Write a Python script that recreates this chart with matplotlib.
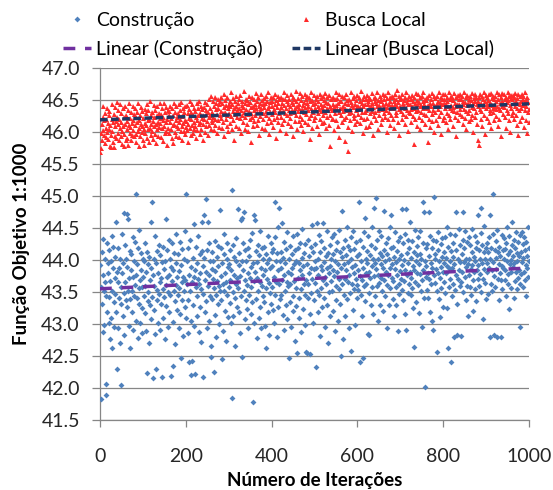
import numpy as np
import matplotlib
matplotlib.use("Agg")
import matplotlib.pyplot as plt
from matplotlib.ticker import FormatStrFormatter

# Values in hundredths above 40.00 (e.g. 352 -> 43.52), one per iteration
construcao_c = [
    392, 183, 358, 412, 331, 287, 376, 433, 352, 298, 401, 366, 206, 344, 189, 427, 318, 380, 395, 301,
    342, 415, 276, 367, 398, 309, 437, 351, 262, 388, 420, 335, 296, 372, 404, 347, 319, 460, 381, 230,
    366, 293, 418, 341, 387, 270, 402, 205, 358, 331, 441, 379, 312, 396, 474, 348, 283, 423, 365, 337,
    401, 326, 389, 472, 351, 464, 297, 372, 414, 339, 263, 385, 410, 352, 318, 436, 374, 291, 399, 343,
    361, 428, 305, 503, 377, 340, 393, 278, 419, 356, 332, 447, 369, 301, 384, 411, 325, 358, 286, 402,
    373, 344, 398, 317, 426, 359, 289, 381, 412, 223, 350, 394, 336, 271, 405, 368, 329, 460, 387, 308,
    342, 490, 215, 376, 401, 322, 359, 437, 284, 395, 230, 353, 414, 338, 302, 380, 423, 347, 366, 290,
    408, 331, 372, 397, 217, 355, 421, 310, 386, 342, 277, 399, 464, 361, 328, 415, 373, 296, 350, 432,
    377, 318, 402, 345, 389, 219, 367, 426, 303, 234, 384, 351, 411, 336, 269, 395, 361, 440, 322, 374,
    346, 409, 383, 294, 357, 428, 315, 247, 392, 366, 338, 417, 281, 373, 401, 352, 327, 445, 369, 310,
    503, 362, 399, 337, 418, 286, 241, 376, 351, 432, 305, 220, 389, 365, 242, 403, 330, 374, 297, 456,
    384, 222, 358, 421, 343, 396, 312, 371, 437, 288, 362, 409, 326, 380, 355, 272, 414, 460, 217, 391,
    347, 470, 403, 319, 368, 495, 382, 336, 415, 293, 460, 359, 427, 305, 376, 344, 398, 265, 248, 386,
    412, 339, 371, 398, 225, 357, 430, 314, 383, 346, 279, 405, 367, 422, 331, 391, 300, 360, 478, 352,
    375, 418, 337, 245, 396, 363, 289, 409, 352, 441, 321, 380, 366, 273, 402, 345, 427, 311, 389, 358,
    394, 333, 416, 368, 301, 385, 184, 509, 350, 423, 312, 377, 405, 341, 266, 398, 362, 435, 327, 372,
    480, 356, 392, 319, 411, 375, 286, 343, 462, 398, 465, 249, 384, 427, 352, 475, 308, 369, 415, 337,
    399, 361, 324, 418, 380, 293, 407, 346, 431, 372, 315, 389, 358, 442, 334, 178, 396, 367, 470, 302,
    463, 381, 414, 339, 397, 278, 372, 423, 352, 310, 408, 365, 446, 327, 388, 293, 419, 359, 343, 401,
    376, 335, 420, 297, 384, 409, 356, 263, 395, 371, 438, 318, 364, 402, 283, 387, 349, 426, 331, 413,
    358, 391, 322, 417, 373, 302, 436, 490, 345, 399, 366, 280, 411, 384, 327, 452, 481, 362, 398, 339,
    387, 345, 412, 458, 369, 314, 403, 376, 291, 428, 352, 395, 330, 417, 365, 444, 308, 381, 359, 247,
    401, 363, 335, 422, 378, 296, 410, 388, 344, 437, 320, 393, 367, 274, 415, 356, 399, 328, 440, 255,
    372, 418, 341, 396, 309, 384, 427, 355, 287, 403, 377, 448, 323, 390, 362, 411, 345, 298, 425, 368,
    257, 394, 255, 362, 431, 340, 406, 379, 316, 253, 388, 421, 349, 455, 371, 302, 413, 386, 337, 399,
    364, 425, 388, 233, 352, 458, 401, 318, 376, 439, 345, 282, 412, 391, 357, 430, 326, 384, 458, 369,
    397, 341, 419, 373, 296, 406, 362, 445, 330, 387, 411, 271, 379, 350, 424, 391, 313, 402, 367, 436,
    352, 409, 384, 321, 441, 375, 398, 289, 416, 360, 337, 428, 382, 305, 393, 447, 354, 371, 412, 331,
    388, 250, 405, 476, 362, 419, 277, 394, 346, 431, 371, 313, 408, 385, 452, 339, 397, 366, 422, 294,
    377, 415, 348, 258, 401, 436, 363, 389, 322, 445, 380, 354, 417, 298, 392, 371, 428, 340, 406, 361,
    384, 353, 491, 410, 241, 375, 432, 346, 398, 368, 313, 247, 421, 387, 359, 443, 336, 466, 402, 379,
    362, 414, 395, 285, 437, 283, 381, 349, 408, 372, 329, 423, 390, 451, 358, 401, 316, 481, 375, 396,
    343, 418, 497, 386, 359, 432, 401, 305, 377, 445, 364, 411, 329, 393, 372, 438, 352, 406, 387, 321,
    415, 477, 369, 398, 344, 427, 382, 293, 409, 361, 435, 376, 330, 401, 388, 452, 357, 418, 470, 372,
    394, 339, 421, 367, 405, 312, 386, 443, 358, 397, 330, 414, 376, 289, 429, 362, 401, 347, 436, 383,
    371, 408, 480, 353, 392, 426, 338, 400, 367, 441, 315, 384, 480, 290, 411, 376, 349, 432, 395, 363,
    418, 381, 460, 346, 403, 372, 429, 357, 391, 325, 264, 413, 385, 447, 366, 398, 334, 422, 379, 408,
    361, 436, 393, 317, 410, 378, 445, 352, 401, 369, 296, 427, 384, 490, 341, 475, 399, 202, 418, 374,
    391, 353, 425, 380, 340, 475, 406, 371, 438, 318, 396, 363, 419, 387, 305, 432, 290, 498, 377, 410,
    364, 401, 386, 429, 352, 256, 416, 380, 443, 339, 398, 372, 311, 425, 389, 357, 434, 404, 327, 381,
    412, 366, 395, 436, 348, 403, 379, 451, 325, 390, 262, 420, 387, 358, 441, 370, 399, 240, 414, 343,
    388, 427, 362, 405, 280, 394, 439, 353, 416, 376, 475, 332, 283, 401, 371, 448, 384, 359, 423, 397,
    365, 282, 409, 381, 432, 475, 350, 397, 418, 374, 446, 337, 402, 389, 360, 428, 313, 394, 377, 436,
    401, 358, 423, 386, 345, 412, 392, 449, 368, 321, 405, 381, 437, 355, 399, 418, 336, 384, 428, 371,
    470, 392, 415, 359, 401, 378, 442, 482, 350, 396, 424, 371, 308, 413, 386, 453, 364, 402, 339, 419,
    381, 426, 395, 347, 412, 388, 436, 280, 401, 470, 363, 419, 384, 352, 440, 503, 397, 283, 375, 416,
    358, 403, 429, 386, 447, 280, 371, 412, 394, 337, 421, 380, 406, 280, 368, 439, 391, 355, 415, 387,
    402, 434, 369, 417, 385, 343, 426, 398, 451, 362, 410, 378, 324, 437, 393, 414, 356, 400, 382, 460,
    423, 389, 407, 341, 432, 396, 367, 419, 443, 382, 355, 411, 398, 428, 372, 406, 384, 439, 362, 295,
    412, 378, 444, 397, 358, 425, 403, 381, 436, 369, 415, 392, 344, 428, 406, 387, 451, 374, 419, 398,
]

busca_local_c = [
    569, 575, 598, 612, 587, 624, 603, 641, 595, 618, 583, 630, 607, 592, 621, 637, 600, 614, 589, 626,
    605, 633, 578, 611, 596, 577, 620, 643, 602, 585, 615, 576, 628, 609, 594, 639, 617, 590, 624, 647,
    612, 599, 634, 587, 621, 606, 643, 593, 616, 629, 601, 582, 637, 610, 578, 624, 597, 640, 613, 588,
    626, 604, 617, 591, 635, 579, 611, 645, 599, 622, 608, 587, 632, 614, 596, 641, 619, 603, 628, 593,
    611, 638, 597, 624, 585, 615, 631, 602, 646, 618, 578, 606, 627, 594, 639, 612, 600, 633, 609, 587,
    622, 605, 580, 636, 614, 598, 629, 611, 643, 591, 618, 604, 634, 585, 621, 648, 607, 596, 626, 613,
    601, 631, 617, 589, 642, 609, 624, 597, 635, 612, 583, 627, 605, 640, 616, 593, 630, 608, 622, 646,
    614, 592, 628, 606, 637, 618, 586, 624, 610, 645, 599, 631, 615, 602, 639, 580, 620, 634, 607, 626,
    598, 633, 616, 641, 604, 622, 590, 637, 611, 627, 583, 645, 613, 600, 631, 618, 594, 640, 609, 624,
    629, 606, 643, 615, 592, 635, 621, 602, 647, 610, 625, 588, 638, 614, 601, 632, 619, 597, 641, 608,
    617, 642, 603, 629, 612, 585, 636, 622, 648, 607, 631, 595, 620, 644, 611, 626, 599, 638, 615, 604,
    633, 610, 624, 590, 645, 618, 603, 637, 627, 612, 649, 597, 630, 616, 641, 605, 622, 636, 587, 626,
    613, 639, 620, 600, 647, 628, 609, 635, 617, 644, 596, 631, 623, 652, 611, 638, 626, 605, 656, 619,
    632, 615, 648, 624, 603, 641, 620, 655, 611, 636, 645, 598, 628, 619, 652, 637, 608, 643, 626, 649,
    622, 654, 633, 607, 646, 629, 616, 660, 639, 594, 631, 650, 621, 642, 610, 655, 627, 638, 601, 644,
    630, 648, 614, 640, 662, 625, 604, 644, 633, 653, 619, 637, 588, 649, 628, 641, 609, 657, 635, 623,
    645, 630, 607, 651, 637, 622, 658, 634, 599, 642, 626, 648, 615, 639, 664, 631, 605, 646, 624, 652,
    636, 612, 650, 628, 643, 601, 656, 633, 620, 647, 639, 584, 629, 654, 623, 641, 609, 651, 635, 617,
    644, 627, 661, 637, 611, 649, 632, 618, 655, 641, 595, 634, 646, 625, 659, 638, 606, 650, 630, 643,
    621, 653, 639, 604, 645, 633, 657, 626, 614, 649, 637, 663, 622, 641, 597, 647, 631, 655, 616, 640,
    648, 628, 608, 654, 636, 620, 660, 643, 632, 591, 650, 623, 639, 656, 615, 645, 629, 652, 635, 603,
    639, 655, 624, 646, 612, 651, 633, 662, 618, 642, 630, 652, 599, 638, 649, 627, 658, 614, 644, 634,
    651, 622, 640, 629, 659, 609, 647, 635, 655, 594, 643, 631, 652, 617, 637, 664, 626, 649, 605, 641,
    633, 653, 617, 644, 638, 661, 625, 611, 650, 636, 656, 621, 642, 601, 647, 632, 659, 639, 615, 651,
    628, 645, 657, 613, 640, 634, 654, 622, 648, 589, 637, 662, 626, 650, 607, 643, 632, 658, 618, 646,
    638, 624, 652, 635, 609, 656, 641, 630, 649, 597, 636, 660, 620, 644, 633, 653, 614, 639, 657, 627,
    650, 616, 642, 661, 631, 647, 606, 638, 654, 623, 645, 634, 658, 611, 640, 626, 578, 651, 637, 620,
    634, 655, 621, 644, 639, 603, 651, 629, 663, 618, 642, 636, 653, 610, 646, 632, 659, 592, 638, 649,
    627, 648, 637, 657, 615, 641, 633, 654, 620, 645, 586, 638, 660, 624, 650, 635, 608, 570, 643, 630,
    652, 636, 619, 647, 662, 631, 642, 602, 653, 639, 626, 656, 622, 644, 612, 650, 634, 640, 658, 617,
    641, 628, 654, 636, 614, 649, 639, 664, 624, 646, 632, 599, 652, 640, 657, 620, 644, 631, 608, 651,
    635, 658, 622, 643, 649, 610, 638, 655, 629, 651, 616, 640, 661, 633, 646, 596, 639, 653, 625, 648,
    655, 631, 645, 618, 640, 662, 634, 650, 605, 642, 627, 657, 638, 648, 613, 652, 636, 621, 644, 659,
    630, 651, 641, 658, 624, 646, 635, 600, 653, 639, 663, 621, 643, 632, 654, 611, 649, 637, 626, 656,
    642, 621, 655, 638, 649, 607, 644, 660, 632, 651, 627, 640, 665, 616, 647, 636, 657, 595, 641, 652,
    633, 653, 639, 620, 659, 645, 628, 650, 641, 612, 654, 637, 662, 625, 647, 635, 602, 651, 643, 631,
    656, 629, 644, 636, 652, 615, 640, 658, 625, 648, 581, 638, 655, 621, 646, 633, 661, 609, 643, 650,
    635, 659, 623, 647, 640, 654, 604, 642, 632, 657, 618, 649, 637, 663, 628, 644, 613, 652, 639, 626,
    650, 638, 654, 585, 642, 621, 658, 634, 646, 608, 652, 640, 628, 661, 617, 645, 635, 656, 600, 641,
    632, 653, 641, 619, 657, 644, 611, 649, 636, 662, 625, 647, 640, 597, 655, 631, 651, 643, 618, 660,
    645, 623, 651, 638, 659, 615, 643, 654, 630, 648, 604, 641, 663, 626, 652, 637, 620, 657, 642, 634,
    654, 639, 610, 650, 633, 661, 624, 646, 640, 655, 594, 644, 631, 658, 619, 651, 643, 628, 660, 636,
    641, 652, 625, 657, 644, 613, 649, 636, 663, 622, 647, 633, 654, 605, 642, 658, 629, 645, 617, 651,
    634, 656, 643, 620, 650, 639, 661, 627, 646, 600, 653, 637, 659, 623, 648, 632, 655, 612, 644, 641,
    587, 648, 580, 654, 636, 660, 620, 646, 633, 656, 609, 651, 640, 626, 662, 643, 597, 649, 638, 658,
    644, 622, 655, 640, 650, 616, 659, 635, 647, 629, 661, 606, 642, 653, 631, 657, 637, 619, 651, 640,
    656, 636, 648, 625, 662, 641, 610, 652, 638, 659, 621, 645, 634, 654, 593, 649, 640, 661, 628, 646,
    639, 660, 624, 651, 643, 655, 607, 647, 635, 663, 630, 650, 618, 657, 642, 600, 653, 637, 658, 626,
    652, 632, 658, 645, 620, 655, 640, 661, 627, 648, 611, 653, 638, 660, 596, 646, 634, 656, 643, 617,
    649, 638, 660, 624, 652, 642, 657, 608, 645, 634, 662, 619, 650, 640, 598, 654, 631, 647, 636, 616,
]

# Linear trendlines (value at iteration 0 and 1000)
tendencia_x = [0, 1000]
tendencia_construcao = [43.55, 43.875]
tendencia_busca_local = [46.19, 46.44]

y_ticks = [41.5, 42.0, 42.5, 43.0, 43.5, 44.0, 44.5, 45.0, 45.5, 46.0, 46.5, 47.0]
x_ticks = [0, 200, 400, 600, 800, 1000]

construcao = 40 + np.array(construcao_c) / 100.0
busca_local = 40 + np.array(busca_local_c) / 100.0
iteracoes = np.arange(1, len(construcao) + 1)

plt.rcParams['font.family'] = ['Lato', 'DejaVu Sans']
W, H = 553, 490
fig = plt.figure(figsize=(W / 100, H / 100), dpi=100)
ax = fig.add_axes([100 / W, (H - 420) / H, 429 / W, 352 / H])

grid_c = '#868686'
blue = '#4F81BD'
red = '#FF2A2A'

ax.plot(iteracoes, construcao, linestyle='none', marker='D', ms=3.0, mew=0,
        color=blue, label='Construção', zorder=3)
ax.plot(iteracoes, busca_local, linestyle='none', marker='^', ms=3.6, mew=0,
        color=red, label='Busca Local', zorder=3)
ax.plot(tendencia_x, tendencia_construcao, color='#7030A0', lw=2.5,
        linestyle=(0, (3.4, 2.8)), label='Linear (Construção)', zorder=4)
ax.plot(tendencia_x, tendencia_busca_local, color='#1F3864', lw=2.5,
        linestyle=(0, (2.2, 1.0)), label='Linear (Busca Local)', zorder=4)

ax.set_xlim(0, 1000)
ax.set_ylim(41.5, 47.0)
ax.set_xticks(x_ticks)
ax.set_yticks(y_ticks)
ax.yaxis.set_major_formatter(FormatStrFormatter('%.1f'))
ax.grid(axis='y', color=grid_c, lw=0.9, zorder=0)
ax.set_axisbelow(True)
for s in ['top', 'right']:
    ax.spines[s].set_visible(False)
for s in ['left', 'bottom']:
    ax.spines[s].set_color(grid_c)
    ax.spines[s].set_linewidth(0.9)
ax.tick_params(axis='y', length=5.5, width=0.9, color=grid_c, pad=9,
               labelsize=14, labelcolor='#262626')
ax.tick_params(axis='x', length=5, width=0.9, color=grid_c, pad=15,
               labelsize=14, labelcolor='#262626')

ax.set_xlabel('Número de Iterações', fontsize=13.5, fontweight='bold', labelpad=5)
ax.set_ylabel('Função Objetivo 1:1000', fontsize=13.5, fontweight='bold', labelpad=8)

h, l = ax.get_legend_handles_labels()
order = [0, 2, 1, 3]
fig.legend([h[i] for i in order], [l[i] for i in order],
           loc='upper left', bbox_to_anchor=(63 / W, 1 - 12 / H), ncol=2,
           frameon=False, borderpad=0, borderaxespad=0, fontsize=14,
           handlelength=1.45, handletextpad=0.25, columnspacing=1.5,
           labelspacing=0.55, numpoints=1)

fig.savefig('out.png', dpi=100)
